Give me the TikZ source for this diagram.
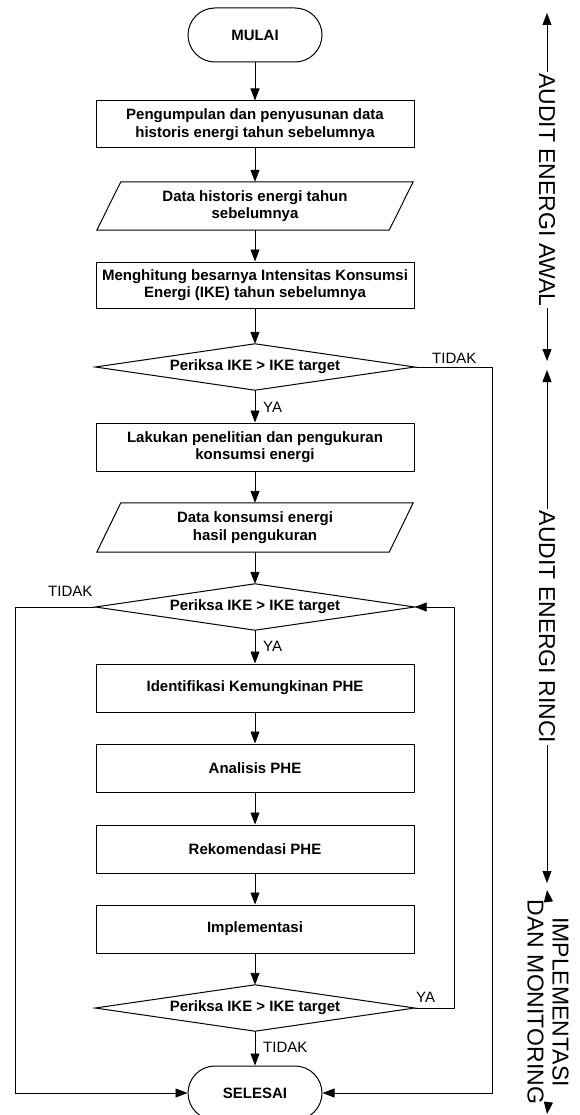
\documentclass[tikz,border=0pt]{standalone}
\usepackage{fontspec}
\setmainfont{Liberation Sans}
\usetikzlibrary{arrows.meta}
\begin{document}
\begin{tikzpicture}[x=1pt,y=-1pt,
  every node/.style={font=\fontsize{15}{17.5}\selectfont},
  proc/.style={draw, line width=1pt, minimum width=318pt, minimum height=47pt, align=center, inner sep=0pt, font=\fontsize{15}{17.5}\selectfont\bfseries},
  term/.style={draw, line width=1pt, rounded corners=27pt, minimum width=134pt, minimum height=54pt, inner sep=0pt, font=\fontsize{15}{17.5}\selectfont\bfseries},
  iobox/.style={minimum width=316pt, minimum height=48pt, align=center, inner sep=0pt, font=\fontsize{15}{17.5}\selectfont\bfseries},
  dec/.style={minimum width=319pt, minimum height=46pt, inner sep=0pt, font=\fontsize{15}{17.5}\selectfont\bfseries},
  outline/.style={line width=1pt},
  arr/.style={line width=0.9pt, -{Triangle[length=12pt,width=9pt]}},
  lbl/.style={inner sep=0pt, anchor=west, font=\fontsize{15}{17.5}\selectfont},
  side/.style={rotate=-90, inner sep=1.5pt, align=center, font=\fontsize{23}{25}\selectfont}
]
\useasboundingbox (0,0) rectangle (579,1115);

% flowchart nodes
\node[term] (start) at (255,35) {MULAI};
\node[proc] (b1) at (255,124.5) {Pengumpulan dan penyusunan data\\historis energi tahun sebelumnya};
\node[iobox] (p1) at (255,206) {Data historis energi tahun\\sebelumnya};
\node[proc, minimum height=46pt] (b2) at (255,285) {Menghitung besarnya Intensitas Konsumsi\\Energi (IKE) tahun sebelumnya};
\node[dec] (d1) at (255,367) {Periksa IKE > IKE target};
\node[proc, minimum height=48pt] (b3) at (255,447) {Lakukan penelitian dan pengukuran\\konsumsi energi};
\node[iobox, minimum height=49pt] (p2) at (255,527.5) {Data konsumsi energi\\hasil pengukuran};
\node[dec] (d2) at (255,607) {Periksa IKE > IKE target};
\node[proc, minimum height=48pt] (b4) at (255,688) {Identifikasi Kemungkinan PHE};
\node[proc, minimum height=48pt] (b5) at (255,768) {Analisis PHE};
\node[proc, minimum height=48pt] (b6) at (255,849) {Rekomendasi PHE};
\node[proc, minimum height=48pt] (b7) at (255,929) {Implementasi};
\node[dec] (d3) at (255,1008) {Periksa IKE > IKE target};
\node[term] (end) at (255,1093) {SELESAI};

% parallelograms
\draw[outline] (p1.south west) -- ([xshift=-24pt]p1.south east) -- (p1.north east) -- ([xshift=24pt]p1.north west) -- cycle;
\draw[outline] (p2.south west) -- ([xshift=-24pt]p2.south east) -- (p2.north east) -- ([xshift=24pt]p2.north west) -- cycle;

% diamonds
\foreach \d in {d1,d2,d3}{
  \draw[outline] (\d.west) -- (\d.north) -- (\d.east) -- (\d.south) -- cycle;
}

% main flow
\draw[arr] (start) -- (b1);
\draw[arr] (b1) -- (p1);
\draw[arr] (p1) -- (b2);
\draw[arr] (b2) -- (d1);
\draw[arr] (d1) -- (b3);
\draw[arr] (b3) -- (p2);
\draw[arr] (p2) -- (d2);
\draw[arr] (d2) -- (b4);
\draw[arr] (b4) -- (b5);
\draw[arr] (b5) -- (b6);
\draw[arr] (b6) -- (b7);
\draw[arr] (b7) -- (d3);
\draw[arr] (d3) -- (end);

% branches
\draw[arr] (d1.east) -- ++(78,0) |- (end.east);
\draw[arr] (d2.west) -- ++(-80,0) |- (end.west);
\draw[arr] (d3.east) -- ++(40,0) |- (d2.east);

% labels
\node[lbl] (l1) at (432,358) {TIDAK};
\node[lbl] (l2) at (263,407) {YA};
\node[lbl] (l3) at (48,591) {TIDAK};
\node[lbl] (l4) at (263,646) {YA};
\node[lbl] (l5) at (416,997) {YA};
\node[lbl] (l6) at (263,1047) {TIDAK};

% side annotations
\coordinate (s1a) at (547,13);
\coordinate (s1b) at (547,361);
\coordinate (s2a) at (547,370);
\coordinate (s2b) at (547,883);
\coordinate (s3a) at (547,890);
\coordinate (s3b) at (547,1114);
\node[side] (t1) at (547,190) {AUDIT ENERGI AWAL};
\node[side] (t2) at (547,627) {AUDIT ENERGI RINCI};
\node[side] (t3) at (548,1002) {IMPLEMENTASI\\DAN MONITORING};
\draw[arr] (t1) -- (s1a);
\draw[arr] (t1) -- (s1b);
\draw[arr] (t2) -- (s2a);
\draw[arr] (t2) -- (s2b);
\draw[arr] (t3.center |- t3.west) -- (s3a);
\draw[arr] (t3.center |- t3.east) -- (s3b);
\end{tikzpicture}
\end{document}
